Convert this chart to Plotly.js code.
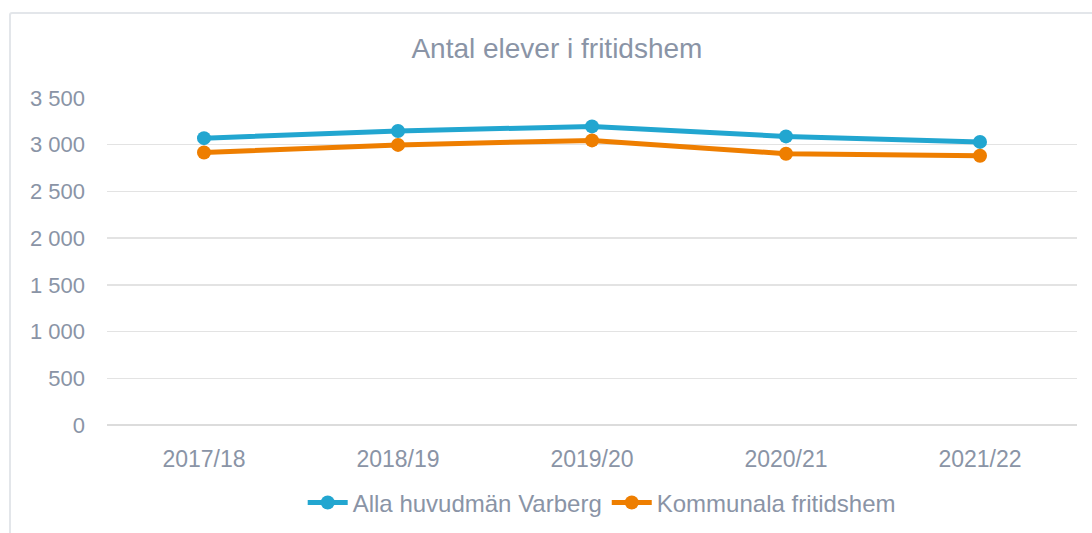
<!DOCTYPE html>
<html><head><meta charset="utf-8">
<script src="https://cdn.plot.ly/plotly-3.0.1.min.js"></script>
<style>
html,body{margin:0;padding:0;background:#fff;}
#frame{position:absolute;left:9px;top:12px;width:1200px;height:600px;border:2px solid #e3e6ea;border-radius:3px;box-sizing:border-box;}
#chart{position:absolute;left:0;top:0;width:1092px;height:533px;}
</style></head>
<body>
<div id="frame"></div>
<div id="chart"></div>
<script>
const categories = ['2017/18','2018/19','2019/20','2020/21','2021/22'];
const allaHuvudman = [3070, 3146, 3196, 3089, 3030];
const kommunala = [2916, 2998, 3046, 2904, 2882];
const seriesNames = ['Alla huvudmän Varberg','Kommunala fritidshem'];
const yTicks = [0,500,1000,1500,2000,2500,3000,3500];

const txt = '#8a94a6';
const font = 'Liberation Sans, Arial, sans-serif';
const traces = [
  {x: categories, y: allaHuvudman, name: seriesNames[0], type:'scatter', mode:'lines+markers',
   line:{color:'#22a6d0', width:5}, marker:{color:'#22a6d0', size:14}},
  {x: categories, y: kommunala, name: seriesNames[1], type:'scatter', mode:'lines+markers',
   line:{color:'#ee7e00', width:5}, marker:{color:'#ee7e00', size:14}}
];
const layout = {
  width:1092, height:533,
  paper_bgcolor:'rgba(0,0,0,0)', plot_bgcolor:'rgba(0,0,0,0)',
  margin:{l:107, r:15, t:98, b:108, autoexpand:false},
  separators:', ',
  font:{family:font, color:txt, size:22},
  title:{text:'Antal elever i fritidshem', font:{size:28, color:txt, family:font}, x:0.51, xanchor:'center', y:0.91, yanchor:'middle'},
  showlegend:true,
  legend:{orientation:'h', x:0.51, xanchor:'center', y:-0.238, yanchor:'middle', font:{size:24, color:txt}, itemwidth:40, traceorder:'normal'},
  xaxis:{type:'category', range:[-0.5,4.5], showgrid:false, showline:false, zeroline:false, ticks:'', ticklabelstandoff:18,
    tickfont:{size:23, color:txt}},
  yaxis:{range:[0,3500], tickvals:yTicks, tickformat:',', showgrid:true, gridcolor:'#e3e3e3', gridwidth:1.5,
    zeroline:true, zerolinecolor:'#dcdcdc', zerolinewidth:1.5, showline:false, ticks:'', ticklabelstandoff:21,
    tickfont:{size:22, color:txt}}
};
Plotly.newPlot('chart', traces, layout, {displayModeBar:false, staticPlot:true});
</script>
</body></html>
